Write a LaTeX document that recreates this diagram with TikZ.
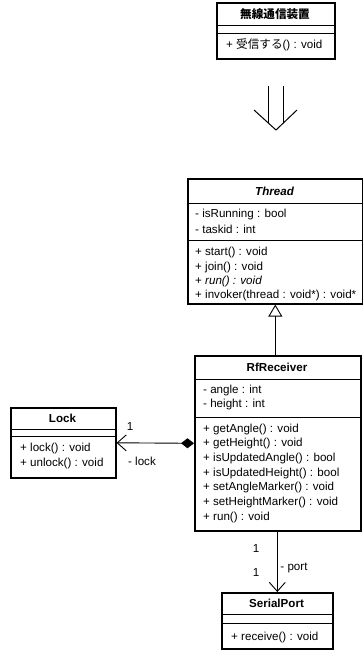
\documentclass[tikz,border=0pt]{standalone}
\usepackage{fontspec}
\setmainfont{Liberation Sans}
\newfontfamily\jp{Noto Sans CJK JP}
\usetikzlibrary{arrows.meta}
\newcommand\fs{\fontsize{11.6}{13}\selectfont}
\begin{document}
\begin{tikzpicture}[x=1pt,y=-1pt,
 classbox/.style={draw, line width=1.6pt, fill=white, inner sep=0pt, anchor=north west},
 sepline/.style={line width=0.9pt},
 member/.style={anchor=west, inner sep=0pt, font=\fs},
 title/.style={inner sep=0pt, font=\fs\bfseries},
 conn/.style={line width=0.9pt},
 lbl/.style={inner sep=0pt, font=\fs}]
\useasboundingbox (0,0) rectangle (363,652);

% top device box
\node[classbox, minimum width=118pt, minimum height=56pt] (dev) at (216,2) {};
\draw[sepline] ([yshift=-23pt]dev.north west) -- ([yshift=-23pt]dev.north east);
\draw[sepline] ([yshift=-31pt]dev.north west) -- ([yshift=-31pt]dev.north east);
\node[title] (devt) at (275,14) {\jp\bfseries 無線通信装置};
\node[member] (devop) at (226,45) {+ {\jp 受信する}() : void};

% big arrow
\draw[line width=1pt] (268,86) -- (268,122.7);
\draw[line width=1pt] (283,86) -- (283,123.3);
\draw[line width=1pt] (254,110) -- (276,130) -- (297,110);

% Thread
\node[classbox, minimum width=175pt, minimum height=125pt] (thread) at (187,178) {};
\draw[sepline] ([yshift=-25pt]thread.north west) -- ([yshift=-25pt]thread.north east);
\draw[sepline] ([yshift=-62pt]thread.north west) -- ([yshift=-62pt]thread.north east);
\node[title] (threadt) at (274.5,191) {\bfseries\itshape Thread};
\node[member] (t1) at (195,215) {- isRunning : bool};
\node[member] (t2) at (195,229) {- taskid : int};
\node[member] (t3) at (195,252) {+ start() : void};
\node[member] (t4) at (195,267) {+ join() : void};
\node[member] (t5) at (195,281) {+ \textit{run() : void}};
\node[member] (t6) at (195,295) {+ invoker(thread : void*) : void*};

% RfReceiver
\node[classbox, minimum width=166pt, minimum height=175pt] (rf) at (194,355) {};
\draw[sepline] ([yshift=-24pt]rf.north west) -- ([yshift=-24pt]rf.north east);
\draw[sepline] ([yshift=-62pt]rf.north west) -- ([yshift=-62pt]rf.north east);
\node[title] (rft) at (277,367) {RfReceiver};
\node[member] (r1) at (203,390) {- angle : int};
\node[member] (r2) at (203,404) {- height : int};
\node[member] (r3) at (203,429) {+ getAngle() : void};
\node[member] (r4) at (203,443) {+ getHeight() : void};
\node[member] (r5) at (203,458) {+ isUpdatedAngle() : bool};
\node[member] (r6) at (203,473) {+ isUpdatedHeight() : bool};
\node[member] (r7) at (203,487) {+ setAngleMarker() : void};
\node[member] (r8) at (203,502) {+ setHeightMarker() : void};
\node[member] (r9) at (203,517) {+ run() : void};

% Lock
\node[classbox, minimum width=105pt, minimum height=70pt] (lock) at (10,407) {};
\draw[sepline] ([yshift=-22pt]lock.north west) -- ([yshift=-22pt]lock.north east);
\draw[sepline] ([yshift=-29pt]lock.north west) -- ([yshift=-29pt]lock.north east);
\node[title] (lockt) at (62.5,418) {Lock};
\node[member] (k1) at (20,448) {+ lock() : void};
\node[member] (k2) at (20,463) {+ unlock() : void};

% SerialPort
\node[classbox, minimum width=111pt, minimum height=56pt] (sp) at (221,592) {};
\draw[sepline] ([yshift=-22pt]sp.north west) -- ([yshift=-22pt]sp.north east);
\draw[sepline] ([yshift=-31pt]sp.north west) -- ([yshift=-31pt]sp.north east);
\node[title] (spt) at (276.5,603) {SerialPort};
\node[member] (s1) at (231,637) {+ receive() : void};

% connectors
\draw[conn, -{Triangle[open, length=12pt, width=14pt, line width=0.9pt]}] (rf.north -| thread.south) -- (thread.south);
\draw[conn, {Diamond[length=13pt, width=10pt]}-{Straight Barb[length=9pt, width=16pt, line width=0.9pt]}] (rf.west) -- (lock.east);
\draw[conn, -{Straight Barb[length=9pt, width=16pt, line width=0.9pt]}] (rf.south -| sp.north) -- (sp.north);

% labels
\node[lbl] (lk1) at (130,427) {1};
\node[lbl] (lk2) at (142,461) {- lock};
\node[lbl] (pt1) at (256,549) {1};
\node[lbl] (pt2) at (256,573) {1};
\node[lbl] (pt3) at (294,568) {- port};
\end{tikzpicture}
\end{document}
